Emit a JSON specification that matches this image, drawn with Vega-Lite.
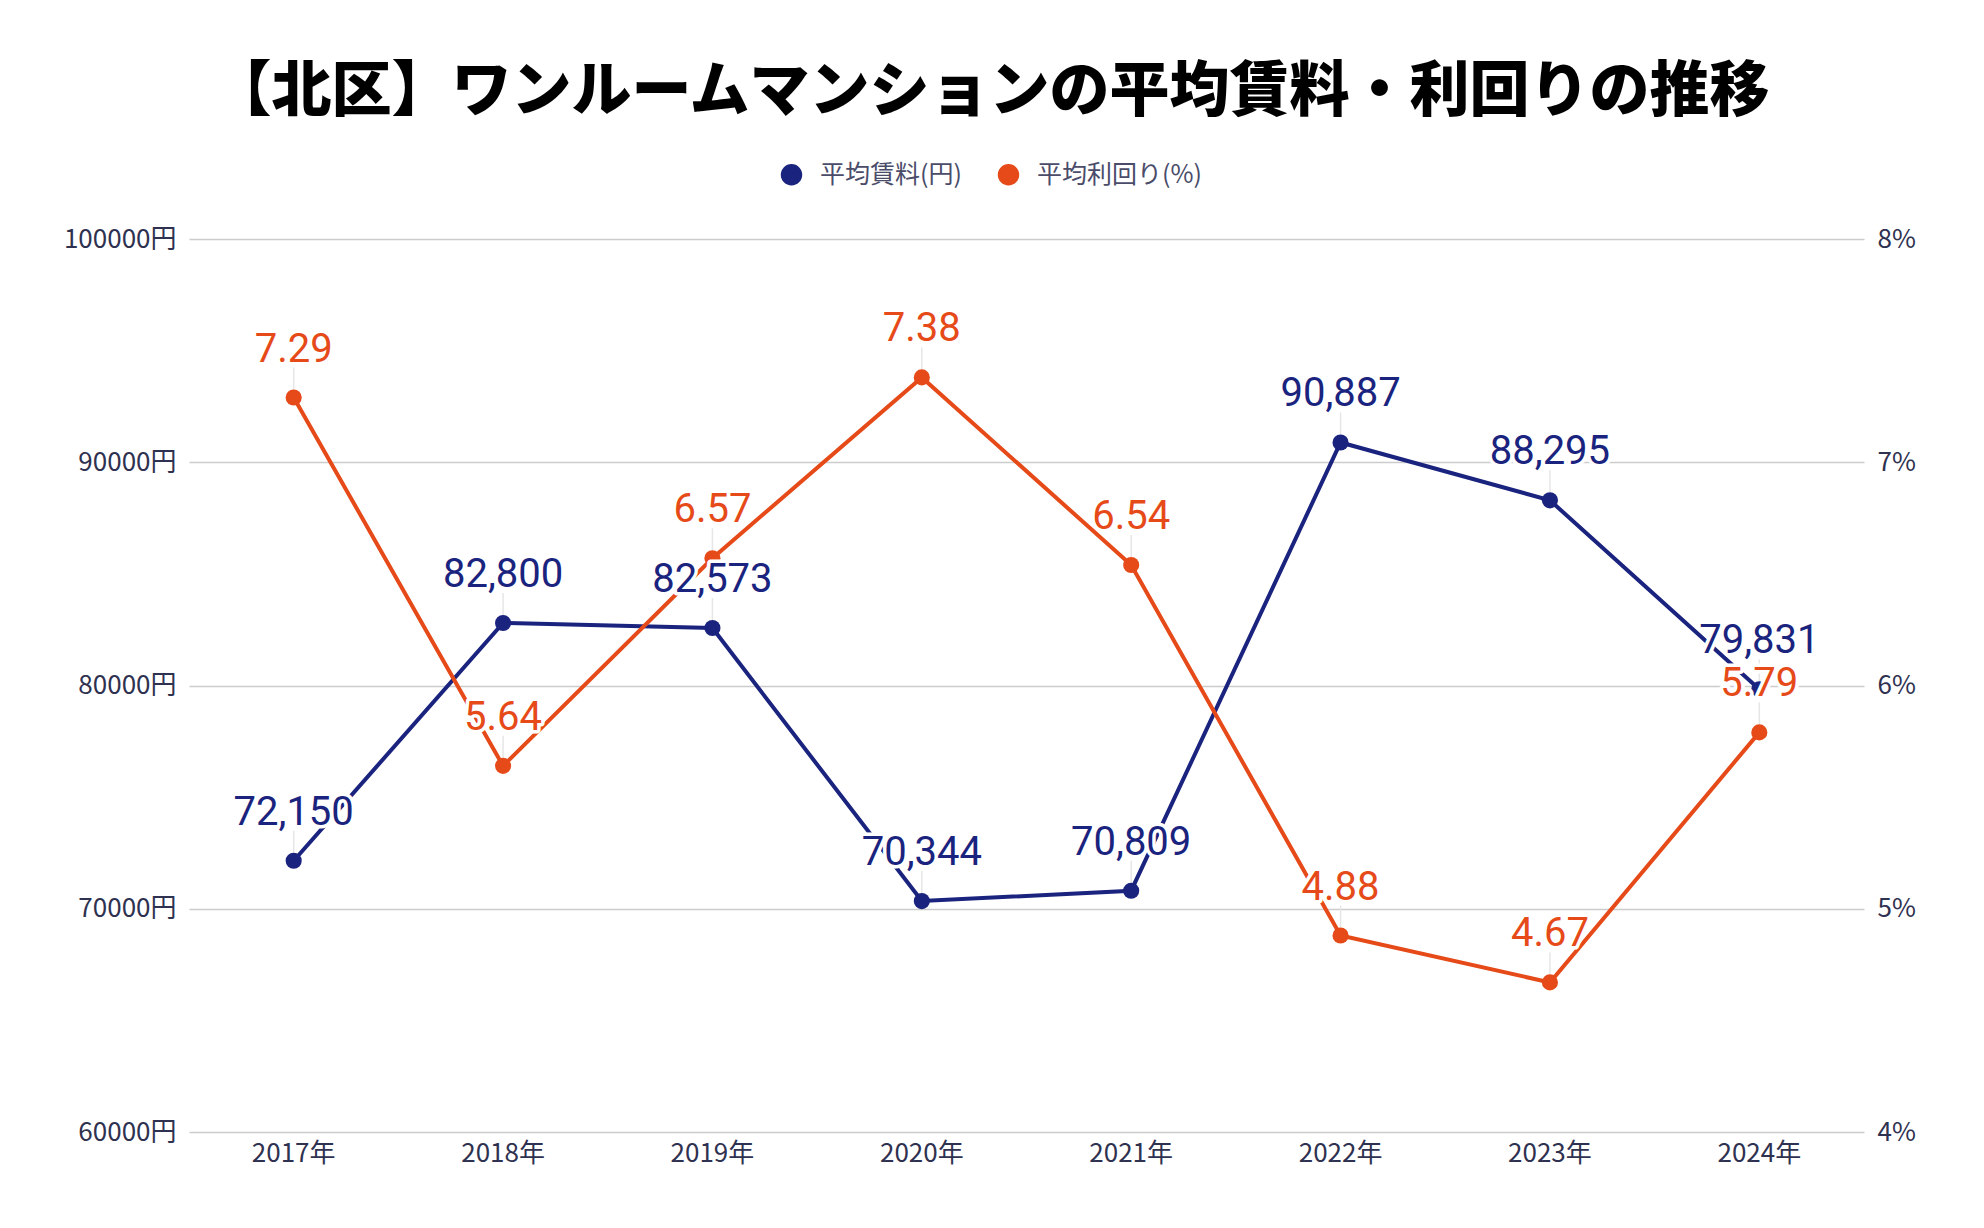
{
  "$schema": "https://vega.github.io/schema/vega-lite/v6.json",
  "width": 1675,
  "height": 893,
  "autosize": {"type": "none"},
  "padding": {"left": 189, "top": 239, "right": 120, "bottom": 96},
  "background": "white",
  "title": {
    "text": "【北区】ワンルームマンションの平均賃料・利回りの推移",
    "font": "Noto Sans CJK JP",
    "fontSize": 60,
    "fontWeight": 900,
    "color": "#000000",
    "anchor": "middle",
    "frame": "group",
    "dx": -36,
    "offset": 38
  },
  "config": {
    "view": {"stroke": null},
    "axis": {
      "labelFont": "Noto Sans CJK JP",
      "labelFontSize": 26,
      "labelColor": "#2f3150",
      "domain": false,
      "ticks": false,
      "title": null
    }
  },
  "data": {
    "values": [
      {"year": "2017年", "rent": 72150, "yield": 7.29},
      {"year": "2018年", "rent": 82800, "yield": 5.64},
      {"year": "2019年", "rent": 82573, "yield": 6.57},
      {"year": "2020年", "rent": 70344, "yield": 7.38},
      {"year": "2021年", "rent": 70809, "yield": 6.54},
      {"year": "2022年", "rent": 90887, "yield": 4.88},
      {"year": "2023年", "rent": 88295, "yield": 4.67},
      {"year": "2024年", "rent": 79831, "yield": 5.79}
    ]
  },
  "encoding": {
    "x": {
      "field": "year",
      "type": "ordinal",
      "sort": null,
      "axis": {"labelAngle": 0, "labelPadding": 8, "grid": false}
    }
  },
  "layer": [
    {
      "encoding": {
        "y": {
          "field": "rent",
          "type": "quantitative",
          "scale": {"domain": [60000, 100000], "zero": false, "nice": false},
          "axis": {
            "orient": "left",
            "values": [60000, 70000, 80000, 90000, 100000],
            "labelExpr": "datum.value + '円'",
            "grid": true,
            "gridColor": "#cccccc",
            "gridWidth": 1.5,
            "labelPadding": 13
          }
        }
      },
      "layer": [
        {
          "mark": {"type": "rule", "color": "#e6e6e6", "strokeWidth": 1.5, "yOffset": -8, "y2Offset": -30},
          "encoding": {"y2": {"field": "rent"}}
        },
        {
          "mark": {"type": "line", "color": "#1a237e", "strokeWidth": 4},
          "encoding": {}
        },
        {
          "mark": {"type": "point", "filled": true, "size": 260, "opacity": 1},
          "encoding": {
            "color": {
              "datum": "平均賃料(円)",
              "type": "nominal",
              "scale": {"domain": ["平均賃料(円)", "平均利回り(%)"], "range": ["#1a237e", "#e64a19"]},
              "legend": {
                "title": null,
                "orient": "none",
                "legendX": 590,
                "legendY": -77,
                "direction": "horizontal",
                "symbolType": "circle",
                "symbolSize": 460,
                "symbolOpacity": 1,
                "symbolStrokeWidth": 0,
                "labelFont": "Noto Sans CJK JP",
                "labelFontSize": 25,
                "labelColor": "#4a4c6a",
                "labelOffset": 16,
                "labelLimit": 400,
                "columnPadding": 34
              }
            }
          }
        }
      ]
    },
    {
      "encoding": {
        "y": {
          "field": "yield",
          "type": "quantitative",
          "scale": {"domain": [4, 8], "zero": false, "nice": false},
          "axis": {
            "orient": "right",
            "values": [4, 5, 6, 7, 8],
            "labelExpr": "datum.value + '%'",
            "grid": false,
            "labelPadding": 13
          }
        }
      },
      "layer": [
        {
          "mark": {"type": "rule", "color": "#e6e6e6", "strokeWidth": 1.5, "yOffset": -8, "y2Offset": -30},
          "encoding": {"y2": {"field": "yield"}}
        },
        {
          "mark": {"type": "line", "color": "#e64a19", "strokeWidth": 4},
          "encoding": {}
        },
        {
          "mark": {"type": "point", "filled": true, "size": 260, "opacity": 1},
          "encoding": {
            "color": {"datum": "平均利回り(%)", "type": "nominal"}
          }
        }
      ]
    },
    {
      "encoding": {
        "y": {
          "field": "rent",
          "type": "quantitative",
          "scale": {"domain": [60000, 100000], "zero": false, "nice": false},
          "axis": null
        },
        "text": {"field": "rent", "type": "quantitative", "format": ","}
      },
      "layer": [
        {
          "mark": {"type": "text", "font": "Roboto", "fontSize": 40, "dy": -36, "baseline": "alphabetic", "stroke": "white", "strokeWidth": 7, "fill": "white", "strokeJoin": "round"}
        },
        {
          "mark": {"type": "text", "font": "Roboto", "fontSize": 40, "dy": -36, "baseline": "alphabetic", "fill": "#1a237e"}
        }
      ]
    },
    {
      "encoding": {
        "y": {
          "field": "yield",
          "type": "quantitative",
          "scale": {"domain": [4, 8], "zero": false, "nice": false},
          "axis": null
        },
        "text": {"field": "yield", "type": "quantitative", "format": ".2f"}
      },
      "layer": [
        {
          "mark": {"type": "text", "font": "Roboto", "fontSize": 40, "dy": -36, "baseline": "alphabetic", "stroke": "white", "strokeWidth": 7, "fill": "white", "strokeJoin": "round"}
        },
        {
          "mark": {"type": "text", "font": "Roboto", "fontSize": 40, "dy": -36, "baseline": "alphabetic", "fill": "#e64a19"}
        }
      ]
    }
  ],
  "resolve": {"scale": {"y": "independent"}}
}
